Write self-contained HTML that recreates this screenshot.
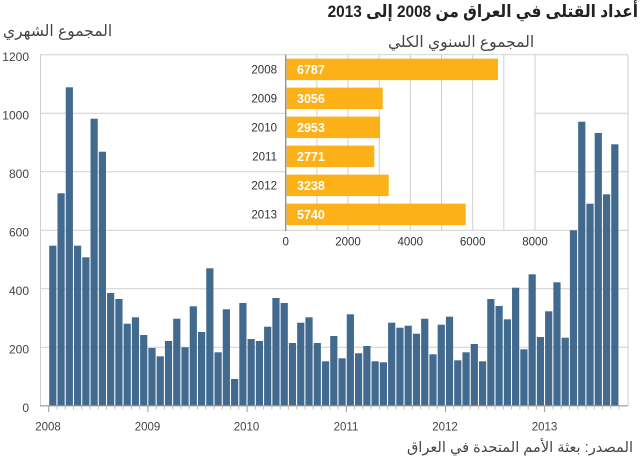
<!DOCTYPE html>
<html><head><meta charset="utf-8">
<style>
html,body{margin:0;padding:0;background:#fff;}
#c{position:relative;width:640px;height:464px;overflow:hidden;background:#fff;font-family:"Liberation Sans","DejaVu Sans",sans-serif;}
.ar{position:absolute;white-space:nowrap;font-family:"Liberation Sans","DejaVu Sans",sans-serif;direction:rtl;}
svg{position:absolute;left:0;top:0;}
</style></head><body>
<div id="c">
<svg width="640" height="464" viewBox="0 0 640 464" font-family="Liberation Sans, DejaVu Sans, sans-serif">
<g stroke="#cfcfcf" stroke-width="1">
<line x1="40" y1="54.7" x2="628" y2="54.7"/>
<line x1="40" y1="113.2" x2="628" y2="113.2"/>
<line x1="40" y1="171.7" x2="628" y2="171.7"/>
<line x1="40" y1="230.2" x2="628" y2="230.2"/>
<line x1="40" y1="288.7" x2="628" y2="288.7"/>
<line x1="40" y1="347.2" x2="628" y2="347.2"/>
<line x1="40.5" y1="54.7" x2="40.5" y2="405.7"/>
<line x1="628" y1="54.7" x2="628" y2="405.7"/>
</g>
<g font-size="12" fill="#444" text-anchor="end">
<text x="29" y="61">1200</text>
<text x="29" y="119.5">1000</text>
<text x="29" y="178">800</text>
<text x="29" y="236.5">600</text>
<text x="29" y="295">400</text>
<text x="29" y="353.5">200</text>
<text x="29" y="412">0</text>
</g>
<g fill="#416a8e">
<rect x="49.2" y="245.7" width="7.2" height="160"/>
<rect x="57.47" y="193.3" width="7.2" height="212.4"/>
<rect x="65.73" y="87.3" width="7.2" height="318.4"/>
<rect x="74.0" y="245.7" width="7.2" height="160"/>
<rect x="82.26" y="257.3" width="7.2" height="148.4"/>
<rect x="90.53" y="118.7" width="7.2" height="287"/>
<rect x="98.79" y="151.7" width="7.2" height="254"/>
<rect x="107.06" y="293" width="7.2" height="112.7"/>
<rect x="115.32" y="299" width="7.2" height="106.7"/>
<rect x="123.59" y="323.7" width="7.2" height="82"/>
<rect x="131.85" y="317.3" width="7.2" height="88.4"/>
<rect x="140.12" y="335" width="7.2" height="70.7"/>
<rect x="148.38" y="348" width="7.2" height="57.7"/>
<rect x="156.65" y="356.3" width="7.2" height="49.4"/>
<rect x="164.91" y="341" width="7.2" height="64.7"/>
<rect x="173.18" y="318.7" width="7.2" height="87"/>
<rect x="181.44" y="347.3" width="7.2" height="58.4"/>
<rect x="189.71" y="306.3" width="7.2" height="99.4"/>
<rect x="197.97" y="332" width="7.2" height="73.7"/>
<rect x="206.24" y="268.3" width="7.2" height="137.4"/>
<rect x="214.5" y="352.3" width="7.2" height="53.4"/>
<rect x="222.77" y="309.3" width="7.2" height="96.4"/>
<rect x="231.03" y="379" width="7.2" height="26.7"/>
<rect x="239.3" y="303" width="7.2" height="102.7"/>
<rect x="247.56" y="339" width="7.2" height="66.7"/>
<rect x="255.83" y="341" width="7.2" height="64.7"/>
<rect x="264.09" y="326.7" width="7.2" height="79"/>
<rect x="272.36" y="298" width="7.2" height="107.7"/>
<rect x="280.62" y="303" width="7.2" height="102.7"/>
<rect x="288.89" y="343" width="7.2" height="62.7"/>
<rect x="297.15" y="322.7" width="7.2" height="83"/>
<rect x="305.42" y="317.3" width="7.2" height="88.4"/>
<rect x="313.68" y="343" width="7.2" height="62.7"/>
<rect x="321.95" y="361.3" width="7.2" height="44.4"/>
<rect x="330.21" y="336" width="7.2" height="69.7"/>
<rect x="338.48" y="358.3" width="7.2" height="47.4"/>
<rect x="346.74" y="314.3" width="7.2" height="91.4"/>
<rect x="355.01" y="353.3" width="7.2" height="52.4"/>
<rect x="363.27" y="346" width="7.2" height="59.7"/>
<rect x="371.54" y="361.3" width="7.2" height="44.4"/>
<rect x="379.8" y="362.3" width="7.2" height="43.4"/>
<rect x="388.07" y="322.7" width="7.2" height="83"/>
<rect x="396.33" y="327.7" width="7.2" height="78"/>
<rect x="404.6" y="325.7" width="7.2" height="80"/>
<rect x="412.86" y="333.7" width="7.2" height="72"/>
<rect x="421.13" y="318.7" width="7.2" height="87"/>
<rect x="429.39" y="354.3" width="7.2" height="51.4"/>
<rect x="437.66" y="324.7" width="7.2" height="81"/>
<rect x="445.92" y="316.7" width="7.2" height="89"/>
<rect x="454.19" y="360.3" width="7.2" height="45.4"/>
<rect x="462.45" y="352.3" width="7.2" height="53.4"/>
<rect x="470.72" y="344" width="7.2" height="61.7"/>
<rect x="478.98" y="361.3" width="7.2" height="44.4"/>
<rect x="487.25" y="299" width="7.2" height="106.7"/>
<rect x="495.51" y="306" width="7.2" height="99.7"/>
<rect x="503.78" y="319.3" width="7.2" height="86.4"/>
<rect x="512.04" y="287.7" width="7.2" height="118"/>
<rect x="520.31" y="349.3" width="7.2" height="56.4"/>
<rect x="528.57" y="274.3" width="7.2" height="131.4"/>
<rect x="536.84" y="337" width="7.2" height="68.7"/>
<rect x="545.1" y="311.3" width="7.2" height="94.4"/>
<rect x="553.37" y="282.3" width="7.2" height="123.4"/>
<rect x="561.63" y="337.7" width="7.2" height="68"/>
<rect x="569.9" y="230.3" width="7.2" height="175.4"/>
<rect x="578.16" y="121.7" width="7.2" height="284"/>
<rect x="586.43" y="203.7" width="7.2" height="202"/>
<rect x="594.69" y="133" width="7.2" height="272.7"/>
<rect x="602.96" y="194.3" width="7.2" height="211.4"/>
<rect x="611.22" y="144.3" width="7.2" height="261.4"/>
</g>
<line x1="40" y1="405.8" x2="628" y2="405.8" stroke="#999" stroke-width="1.2"/>
<g stroke="#c8bcae" stroke-width="1">
<path d="M57.0 406v3.5M65.2 406v3.5M73.5 406v3.5M81.8 406v3.5M90.0 406v3.5M98.3 406v3.5M106.6 406v3.5M114.8 406v3.5M123.1 406v3.5M131.4 406v3.5M139.6 406v3.5M156.2 406v3.5M164.4 406v3.5M172.7 406v3.5M181.0 406v3.5M189.2 406v3.5M197.5 406v3.5M205.8 406v3.5M214.0 406v3.5M222.3 406v3.5M230.6 406v3.5M238.8 406v3.5M255.4 406v3.5M263.6 406v3.5M271.9 406v3.5M280.2 406v3.5M288.4 406v3.5M296.7 406v3.5M305.0 406v3.5M313.2 406v3.5M321.5 406v3.5M329.8 406v3.5M338.0 406v3.5M354.6 406v3.5M362.8 406v3.5M371.1 406v3.5M379.4 406v3.5M387.6 406v3.5M395.9 406v3.5M404.2 406v3.5M412.4 406v3.5M420.7 406v3.5M429.0 406v3.5M437.2 406v3.5M453.8 406v3.5M462.0 406v3.5M470.3 406v3.5M478.6 406v3.5M486.8 406v3.5M495.1 406v3.5M503.4 406v3.5M511.6 406v3.5M519.9 406v3.5M528.2 406v3.5M536.4 406v3.5M553.0 406v3.5M561.2 406v3.5M569.5 406v3.5M577.8 406v3.5M586.0 406v3.5M594.3 406v3.5M602.6 406v3.5M610.8 406v3.5M619.1 406v3.5"/>
</g>
<g stroke="#999" stroke-width="1">
<path d="M48.7 406v6M147.9 406v6M247.1 406v6M346.3 406v6M445.5 406v6M544.6 406v6"/>
</g>
<g font-size="11.5" fill="#444" text-anchor="middle">
<text x="48" y="430.5">2008</text>
<text x="147.5" y="430.5">2009</text>
<text x="246.5" y="430.5">2010</text>
<text x="346" y="430.5">2011</text>
<text x="445" y="430.5">2012</text>
<text x="544.5" y="430.5">2013</text>
</g>
<rect x="285" y="55.3" width="250" height="174.3" fill="#fff"/>
<g stroke="#cfcfcf" stroke-width="1">
<line x1="316.9" y1="55" x2="316.9" y2="230"/>
<line x1="348.0" y1="55" x2="348.0" y2="230"/>
<line x1="379.2" y1="55" x2="379.2" y2="230"/>
<line x1="410.3" y1="55" x2="410.3" y2="230"/>
<line x1="441.5" y1="55" x2="441.5" y2="230"/>
<line x1="472.7" y1="55" x2="472.7" y2="230"/>
<line x1="503.8" y1="55" x2="503.8" y2="230"/>
<line x1="535" y1="55" x2="535" y2="230"/>
</g>
<line x1="285.7" y1="55" x2="285.7" y2="231" stroke="#8a8a8a" stroke-width="1.3"/>
<g fill="#fbb117">
<rect x="286.6" y="58.6" width="211.4" height="21.5"/>
<rect x="286.6" y="87.6" width="96.1" height="21.5"/>
<rect x="286.6" y="116.6" width="93.4" height="21.5"/>
<rect x="286.6" y="145.6" width="87.7" height="21.5"/>
<rect x="286.6" y="174.6" width="102.1" height="21.5"/>
<rect x="286.6" y="203.6" width="179.1" height="21.5"/>
</g>
<g font-size="12.5" font-weight="bold" fill="#fff">
<text x="297" y="74">6787</text>
<text x="297" y="103">3056</text>
<text x="297" y="132">2953</text>
<text x="297" y="161">2771</text>
<text x="297" y="190">3238</text>
<text x="297" y="219">5740</text>
</g>
<g font-size="11.5" fill="#333" text-anchor="end">
<text x="277" y="73.5">2008</text>
<text x="277" y="102.5">2009</text>
<text x="277" y="131.5">2010</text>
<text x="277" y="160.5">2011</text>
<text x="277" y="189.5">2012</text>
<text x="277" y="218.5">2013</text>
</g>
<g font-size="11.5" fill="#333" text-anchor="middle">
<text x="285.7" y="245.5">0</text>
<text x="348" y="245.5">2000</text>
<text x="410.3" y="245.5">4000</text>
<text x="472.7" y="245.5">6000</text>
<text x="535" y="245.5">8000</text>
</g>
</svg>
<div class="ar" style="right:2px;top:0px;font-size:17px;font-weight:bold;color:#222;line-height:24px;transform:scaleX(0.905);transform-origin:right center;">أعداد القتلى في العراق من 2008 إلى 2013</div>
<div class="ar" style="left:3px;top:21px;font-size:15.5px;color:#444;line-height:22px;">المجموع الشهري</div>
<div class="ar" style="left:388px;top:33px;font-size:15.5px;color:#444;line-height:20px;">المجموع السنوي الكلي</div>
<div class="ar" style="right:7px;top:437px;font-size:14.6px;color:#444;line-height:22px;">المصدر: بعثة الأمم المتحدة في العراق</div>
</div>
</body></html>
